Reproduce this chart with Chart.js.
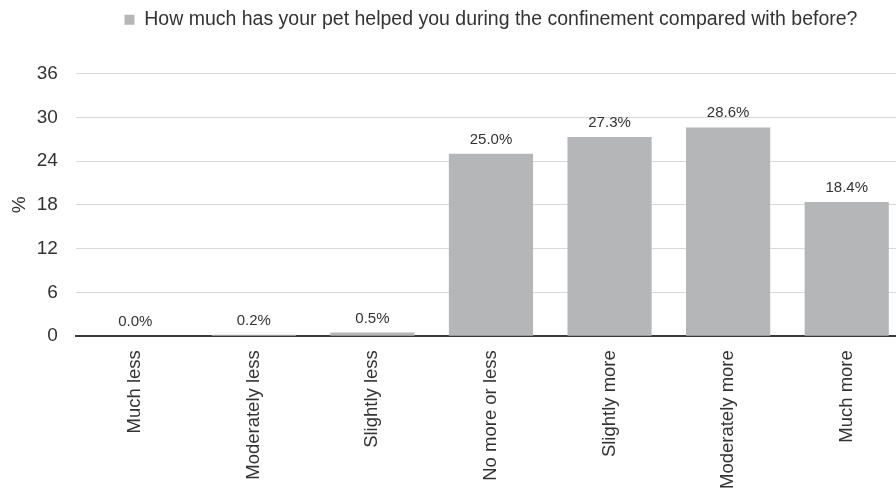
<!DOCTYPE html>
<html lang="en">
<head>
    <meta charset="UTF-8">
    <title>Pet help during confinement</title>
    <script src="https://cdn.jsdelivr.net/npm/chart.js"></script>
    <style>
        html, body { margin: 0; padding: 0; background: #fff; overflow: hidden; }
        #wrap { position: relative; width: 906px; height: 496px; }
    </style>
</head>
<body>
    <div id="wrap">
        <canvas id="petChart"></canvas>
    </div>

    <script>
        // Data
        const categories = ['Much less', 'Moderately less', 'Slightly less', 'No more or less',
                            'Slightly more', 'Moderately more', 'Much more'];
        const percentValues = [0.0, 0.2, 0.5, 25.0, 27.3, 28.6, 18.4];
        const seriesLabel = 'How much has your pet helped you during the confinement compared with before?';
        const yTicks = [0, 6, 12, 18, 24, 30, 36];

        const FONT = "'Liberation Sans', Arial, sans-serif";
        const TEXT = '#333333';
        const BAR = '#b5b6b8';

        // Value labels drawn above each bar
        const valueLabels = {
            id: 'valueLabels',
            afterDatasetsDraw(chart) {
                const ctx = chart.ctx;
                const meta = chart.getDatasetMeta(0);
                ctx.save();
                ctx.font = '15px ' + FONT;
                ctx.fillStyle = TEXT;
                ctx.textAlign = 'center';
                ctx.textBaseline = 'alphabetic';
                meta.data.forEach((bar, i) => {
                    ctx.fillText(percentValues[i].toFixed(1) + '%', bar.x, bar.y - 10);
                });
                ctx.restore();
            }
        };

        // Extra room between the legend and the plot
        const legendSpacer = {
            id: 'legendSpacer',
            beforeInit(chart) {
                const fit = chart.legend.fit;
                chart.legend.fit = function () {
                    fit.bind(chart.legend)();
                    this.height += 34;
                };
            }
        };

        new Chart(document.getElementById('petChart'), {
            type: 'bar',
            data: {
                labels: categories,
                datasets: [{
                    label: seriesLabel,
                    data: percentValues,
                    backgroundColor: BAR,
                    borderWidth: 0,
                    categoryPercentage: 1,
                    barPercentage: 0.71
                }]
            },
            options: {
                responsive: true,
                maintainAspectRatio: false,
                animation: false,
                layout: { padding: { left: 8, right: 0, top: 0, bottom: 1 } },
                plugins: {
                    tooltip: { enabled: false },
                    legend: {
                        position: 'top',
                        align: 'center',
                        fullSize: false,
                        labels: {
                            boxWidth: 10,
                            boxHeight: 10,
                            color: TEXT,
                            font: { family: FONT, size: 19.5 },
                            padding: 10
                        }
                    }
                },
                scales: {
                    x: {
                        grid: { display: false },
                        border: { display: true, color: '#3a3a3a', width: 2 },
                        ticks: {
                            color: TEXT,
                            font: { family: FONT, size: 18.5 },
                            minRotation: 90,
                            maxRotation: 90,
                            padding: 6,
                            autoSkip: false
                        }
                    },
                    y: {
                        min: 0,
                        max: 36,
                        afterBuildTicks(axis) {
                            axis.ticks = yTicks.map(v => ({ value: v }));
                        },
                        grid: { color: '#d9d9d9', lineWidth: 1, drawTicks: false },
                        border: { display: false },
                        ticks: {
                            color: TEXT,
                            font: { family: FONT, size: 19 },
                            padding: 18
                        },
                        title: {
                            display: true,
                            text: '%',
                            color: TEXT,
                            font: { family: FONT, size: 19 },
                            padding: { top: 0, bottom: -12 }
                        }
                    }
                }
            },
            plugins: [valueLabels, legendSpacer]
        });
    </script>
</body>
</html>
